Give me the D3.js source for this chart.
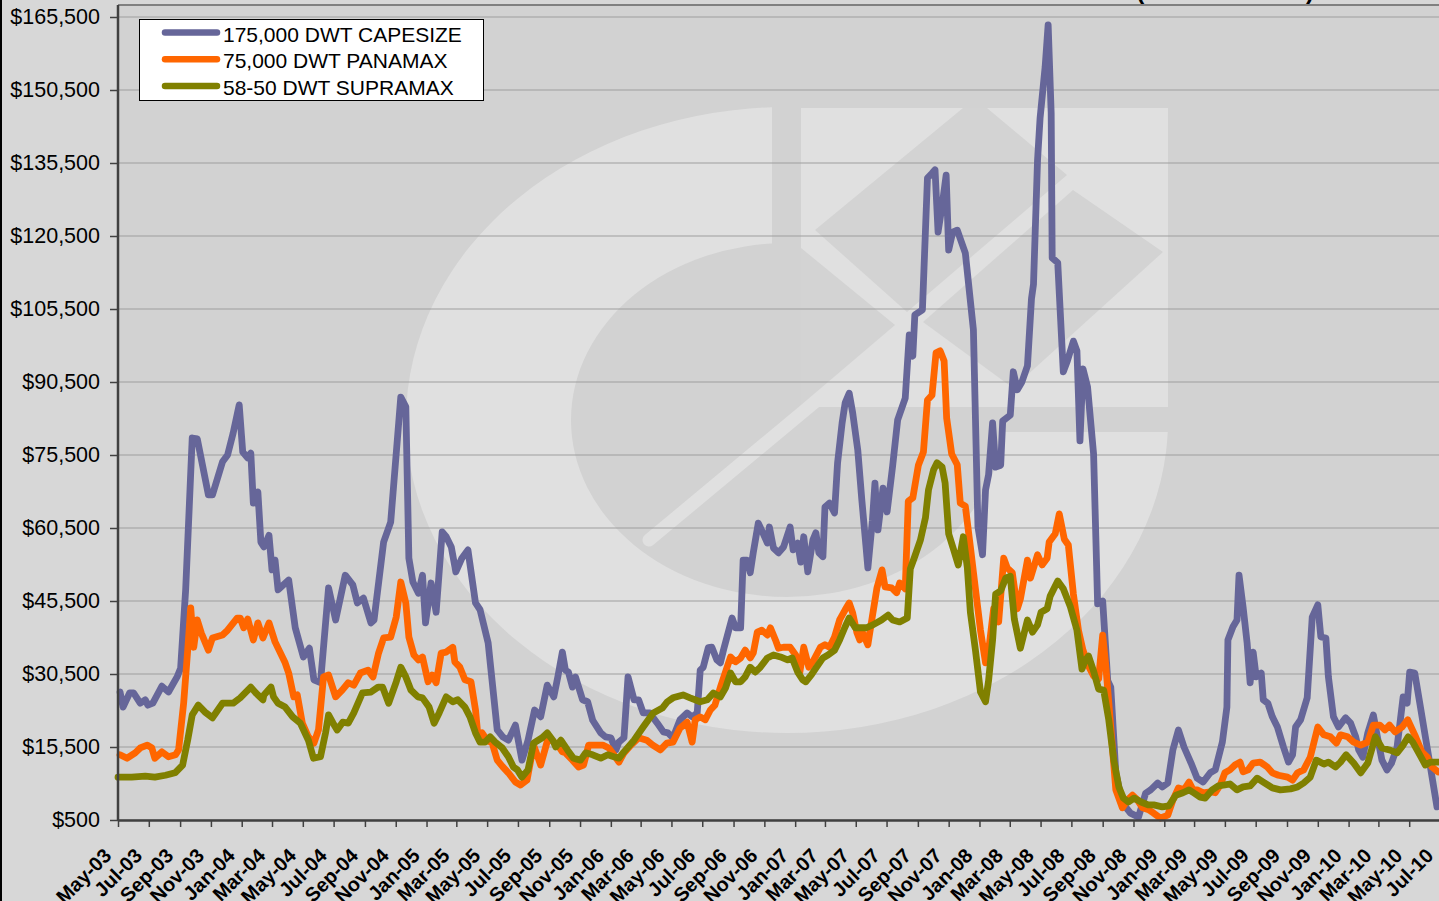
<!DOCTYPE html>
<meta charset="utf-8">

<!-- Load d3.js -->
<script src="https://d3js.org/d3.v7.min.js"></script>

<style>
    body { margin: 0; background: #d7d7d7; }
    svg { display: block; font-family: "Liberation Sans", Arial, sans-serif; }
</style>

<div id="my_dataviz"></div>

<script>

    // weekly time charter rates, $/day
    const capesize = [
        ["2003-05-05", 26800], ["2003-05-11", 23700], ["2003-05-24", 26600], ["2003-06-01", 26600], ["2003-06-14", 24500], ["2003-06-24", 25200], ["2003-06-29", 24100], ["2003-07-09", 24500], ["2003-07-27", 28000], ["2003-08-09", 26800], ["2003-08-26", 29900], ["2003-09-02", 31700], ["2003-09-12", 47800], ["2003-09-25", 79000], ["2003-10-05", 78800], ["2003-10-27", 67300], ["2003-11-04", 67300], ["2003-11-24", 74100], ["2003-12-04", 75500], ["2003-12-15", 80000], ["2003-12-27", 85800],
        ["2004-01-03", 76100], ["2004-01-13", 74900], ["2004-01-19", 75900], ["2004-01-24", 65600], ["2004-02-02", 67900], ["2004-02-08", 57600], ["2004-02-14", 56600], ["2004-02-24", 59000], ["2004-03-01", 51900], ["2004-03-07", 53900], ["2004-03-13", 47800], ["2004-04-03", 49800], ["2004-04-16", 40000], ["2004-05-02", 34000], ["2004-05-14", 35800], ["2004-05-23", 29300], ["2004-06-05", 28700], ["2004-06-21", 48200], ["2004-07-05", 41600], ["2004-07-24", 50800], ["2004-08-08", 48800], ["2004-08-17", 45100], ["2004-08-29", 46100], ["2004-09-13", 41000], ["2004-09-19", 41600], ["2004-10-08", 57600], ["2004-10-22", 61700], ["2004-11-11", 87400], ["2004-11-21", 85400], ["2004-11-27", 54300], ["2004-12-05", 49400], ["2004-12-16", 47100], ["2004-12-24", 50800], ["2004-12-30", 41000],
        ["2005-01-10", 49200], ["2005-01-20", 43200], ["2005-02-01", 59700], ["2005-02-09", 58700], ["2005-02-19", 56600], ["2005-02-28", 51500], ["2005-03-12", 54300], ["2005-03-24", 56000], ["2005-04-08", 45100], ["2005-04-17", 43700], ["2005-05-03", 36900], ["2005-05-21", 19000], ["2005-06-01", 17600], ["2005-06-12", 16900], ["2005-06-26", 20000], ["2005-07-09", 12800], ["2005-07-21", 16900], ["2005-08-03", 23100], ["2005-08-15", 21700], ["2005-08-28", 28200], ["2005-09-10", 25800], ["2005-09-18", 29900], ["2005-09-27", 35000], ["2005-10-03", 31300], ["2005-10-09", 30900], ["2005-10-17", 27800], ["2005-10-23", 29900], ["2005-11-06", 25200], ["2005-11-16", 24800], ["2005-11-26", 21000], ["2005-12-12", 18400], ["2005-12-21", 17600],
        ["2006-01-01", 17400], ["2006-01-11", 14900], ["2006-01-17", 16500], ["2006-01-27", 17400], ["2006-02-04", 29900], ["2006-02-16", 25200], ["2006-02-25", 25200], ["2006-03-06", 22500], ["2006-03-19", 22500], ["2006-04-03", 20400], ["2006-04-15", 18600], ["2006-04-24", 18400], ["2006-05-04", 17400], ["2006-05-18", 21100], ["2006-06-01", 22500], ["2006-06-11", 21700], ["2006-06-21", 22500], ["2006-06-27", 31300], ["2006-07-03", 31900], ["2006-07-13", 35900], ["2006-07-20", 36000], ["2006-07-30", 33400], ["2006-08-06", 32800], ["2006-08-12", 35400], ["2006-08-21", 38900], ["2006-08-29", 42000], ["2006-09-05", 40000], ["2006-09-15", 40000], ["2006-09-20", 53900], ["2006-09-28", 53900], ["2006-10-04", 51300], ["2006-10-10", 55400], ["2006-10-20", 61500], ["2006-10-29", 59500], ["2006-11-07", 57400], ["2006-11-11", 60700], ["2006-11-19", 56400], ["2006-11-29", 55400], ["2006-12-09", 56600], ["2006-12-22", 60700], ["2006-12-28", 56000],
        ["2007-01-06", 57400], ["2007-01-12", 53500], ["2007-01-18", 58700], ["2007-01-26", 51500], ["2007-02-05", 58000], ["2007-02-11", 59500], ["2007-02-17", 55400], ["2007-02-25", 54600], ["2007-03-01", 64800], ["2007-03-10", 65600], ["2007-03-20", 63600], ["2007-03-26", 73900], ["2007-04-04", 82100], ["2007-04-10", 86200], ["2007-04-18", 88200], ["2007-04-25", 84100], ["2007-05-05", 76500], ["2007-05-13", 66300], ["2007-05-21", 57000], ["2007-05-25", 52300], ["2007-06-03", 62100], ["2007-06-08", 69700], ["2007-06-14", 60100], ["2007-06-24", 68700], ["2007-07-02", 63800], ["2007-07-13", 73200], ["2007-07-23", 82700], ["2007-08-07", 87200], ["2007-08-15", 100200], ["2007-08-22", 95800], ["2007-08-26", 104300], ["2007-09-10", 105300], ["2007-09-20", 132400], ["2007-09-29", 133400], ["2007-10-05", 134100], ["2007-10-11", 121300], ["2007-10-19", 126700], ["2007-10-27", 133000], ["2007-11-01", 117600], ["2007-11-09", 121300], ["2007-11-18", 121700], ["2007-12-04", 117000], ["2007-12-20", 101200], ["2007-12-29", 60700],
        ["2008-01-07", 55000], ["2008-01-13", 68300], ["2008-01-19", 71400], ["2008-01-27", 82100], ["2008-02-02", 73000], ["2008-02-12", 73400], ["2008-02-16", 82500], ["2008-03-02", 83700], ["2008-03-08", 92600], ["2008-03-16", 88900], ["2008-03-25", 90500], ["2008-04-05", 93800], ["2008-04-13", 107600], ["2008-04-17", 110600], ["2008-04-25", 136100], ["2008-04-30", 144700], ["2008-05-10", 155200], ["2008-05-16", 163900], ["2008-05-22", 145800], ["2008-05-24", 116000], ["2008-06-04", 115000], ["2008-06-15", 92600], ["2008-06-23", 94800], ["2008-07-05", 98900], ["2008-07-12", 96900], ["2008-07-18", 78400], ["2008-07-24", 93200], ["2008-08-02", 89500], ["2008-08-14", 75700], ["2008-08-22", 44900], ["2008-09-01", 45500], ["2008-09-11", 29100], ["2008-09-17", 27800], ["2008-09-27", 10200], ["2008-10-10", 4000], ["2008-10-26", 1900], ["2008-11-11", 1100], ["2008-11-25", 6000], ["2008-12-05", 6700], ["2008-12-19", 8100], ["2008-12-28", 7300],
        ["2009-01-08", 8100], ["2009-01-18", 14900], ["2009-01-29", 19000], ["2009-02-09", 15500], ["2009-02-23", 12200], ["2009-03-07", 9100], ["2009-03-19", 8300], ["2009-04-02", 10200], ["2009-04-12", 10800], ["2009-04-26", 16500], ["2009-05-05", 23700], ["2009-05-07", 37500], ["2009-05-17", 40200], ["2009-05-25", 41600], ["2009-05-29", 50800], ["2009-06-06", 44300], ["2009-06-14", 36900], ["2009-06-20", 28700], ["2009-06-26", 35000], ["2009-07-02", 29900], ["2009-07-12", 30700], ["2009-07-16", 25200], ["2009-07-25", 24500], ["2009-08-03", 21700], ["2009-08-13", 19600], ["2009-08-25", 15500], ["2009-09-04", 12400], ["2009-09-12", 13900], ["2009-09-18", 19600], ["2009-09-28", 21100], ["2009-10-11", 25600], ["2009-10-21", 42200], ["2009-11-01", 44700], ["2009-11-07", 38100], ["2009-11-17", 37900], ["2009-11-22", 29900], ["2009-12-02", 21700], ["2009-12-12", 19600], ["2009-12-26", 21500],
        ["2010-01-05", 20400], ["2010-01-15", 17600], ["2010-01-21", 14900], ["2010-01-29", 13400], ["2010-02-08", 18400], ["2010-02-19", 22100], ["2010-02-27", 17600], ["2010-03-08", 12800], ["2010-03-18", 10800], ["2010-03-27", 12200], ["2010-04-07", 15500], ["2010-04-19", 25800], ["2010-04-27", 24500], ["2010-05-02", 30900], ["2010-05-12", 30700], ["2010-05-22", 24500], ["2010-06-02", 17600], ["2010-06-12", 11400], ["2010-06-25", 3200]
    ];

    const panamax = [
        ["2003-05-05", 13900], ["2003-05-19", 13200], ["2003-06-04", 14300], ["2003-06-14", 15300], ["2003-06-28", 15900], ["2003-07-07", 15300], ["2003-07-13", 13200], ["2003-07-27", 14500], ["2003-08-09", 13500], ["2003-08-23", 13900], ["2003-08-29", 14900], ["2003-09-08", 24500], ["2003-09-16", 35400], ["2003-09-22", 44100], ["2003-09-28", 36000], ["2003-10-05", 41600], ["2003-10-13", 38900], ["2003-10-27", 35400], ["2003-11-04", 37900], ["2003-11-24", 38500], ["2003-12-04", 39500], ["2003-12-23", 42000], ["2003-12-29", 42000],
        ["2004-01-05", 40000], ["2004-01-13", 41800], ["2004-01-24", 37500], ["2004-02-02", 41000], ["2004-02-12", 37900], ["2004-02-24", 41000], ["2004-03-07", 37100], ["2004-03-27", 32800], ["2004-04-03", 30700], ["2004-04-13", 25800], ["2004-04-20", 26200], ["2004-04-30", 20400], ["2004-05-12", 17600], ["2004-05-23", 16300], ["2004-06-01", 19000], ["2004-06-11", 29900], ["2004-06-21", 30300], ["2004-07-05", 25800], ["2004-07-18", 27200], ["2004-07-30", 28700], ["2004-08-10", 28200], ["2004-08-23", 30700], ["2004-09-07", 31300], ["2004-09-17", 29900], ["2004-09-28", 34800], ["2004-10-08", 37900], ["2004-10-22", 38100], ["2004-11-02", 42200], ["2004-11-11", 49400], ["2004-11-21", 45100], ["2004-11-27", 38100], ["2004-12-07", 34400], ["2004-12-16", 33400], ["2004-12-24", 34000],
        ["2005-01-04", 28900], ["2005-01-12", 30300], ["2005-01-20", 28700], ["2005-01-30", 34800], ["2005-02-09", 35000], ["2005-02-22", 36000], ["2005-02-26", 33000], ["2005-03-08", 31900], ["2005-03-18", 29300], ["2005-03-30", 28900], ["2005-04-08", 23100], ["2005-04-13", 17600], ["2005-04-21", 18400], ["2005-05-01", 16900], ["2005-05-11", 16300], ["2005-05-21", 12800], ["2005-06-01", 11400], ["2005-06-12", 10200], ["2005-06-26", 8300], ["2005-07-06", 7700], ["2005-07-19", 8700], ["2005-08-01", 15900], ["2005-08-15", 11800], ["2005-08-25", 15500], ["2005-08-30", 17400], ["2005-09-18", 15900], ["2005-09-27", 14500], ["2005-10-03", 14300], ["2005-10-17", 12800], ["2005-10-29", 11400], ["2005-11-08", 11800], ["2005-11-18", 15900], ["2005-12-02", 15900], ["2005-12-16", 15900], ["2005-12-28", 15300],
        ["2006-01-07", 13900], ["2006-01-17", 12400], ["2006-01-27", 14300], ["2006-02-10", 15900], ["2006-02-25", 17400], ["2006-03-13", 16900], ["2006-03-25", 15900], ["2006-04-09", 14900], ["2006-04-22", 16300], ["2006-05-04", 16500], ["2006-05-18", 19400], ["2006-06-01", 20600], ["2006-06-11", 16500], ["2006-06-17", 21100], ["2006-06-27", 21700], ["2006-07-07", 21100], ["2006-07-17", 23100], ["2006-07-26", 24100], ["2006-08-06", 27800], ["2006-08-16", 30900], ["2006-08-26", 34000], ["2006-09-05", 33000], ["2006-09-15", 33800], ["2006-09-24", 35400], ["2006-10-04", 33800], ["2006-10-10", 34800], ["2006-10-18", 39100], ["2006-10-27", 39500], ["2006-11-07", 38500], ["2006-11-13", 40000], ["2006-11-23", 37500], ["2006-11-29", 35800], ["2006-12-09", 36000], ["2006-12-22", 36000],
        ["2007-01-02", 34400], ["2007-01-10", 30700], ["2007-01-18", 36000], ["2007-01-28", 31900], ["2007-02-07", 33400], ["2007-02-20", 36000], ["2007-03-01", 36500], ["2007-03-10", 36000], ["2007-03-20", 38100], ["2007-03-30", 41600], ["2007-04-10", 43700], ["2007-04-18", 45100], ["2007-04-25", 43000], ["2007-05-03", 39100], ["2007-05-09", 37500], ["2007-05-15", 38900], ["2007-05-25", 36500], ["2007-06-03", 42400], ["2007-06-12", 48200], ["2007-06-22", 51900], ["2007-06-28", 48400], ["2007-07-11", 48200], ["2007-07-21", 47200], ["2007-07-27", 49200], ["2007-08-07", 48000], ["2007-08-13", 66000], ["2007-08-22", 66700], ["2007-09-02", 73400], ["2007-09-12", 76100], ["2007-09-20", 86800], ["2007-09-29", 87800], ["2007-10-07", 96500], ["2007-10-15", 96900], ["2007-10-23", 94800], ["2007-10-28", 83100], ["2007-11-07", 75700], ["2007-11-18", 73500], ["2007-11-24", 65600], ["2007-12-04", 65000], ["2007-12-14", 56600], ["2007-12-24", 48000],
        ["2008-01-03", 39500], ["2008-01-13", 32800], ["2008-01-21", 36900], ["2008-01-29", 43900], ["2008-02-08", 41200], ["2008-02-18", 54300], ["2008-02-25", 52300], ["2008-03-06", 51300], ["2008-03-16", 43900], ["2008-03-22", 45900], ["2008-04-05", 53900], ["2008-04-11", 50200], ["2008-04-25", 55000], ["2008-05-04", 52900], ["2008-05-14", 54300], ["2008-05-18", 57600], ["2008-05-30", 59300], ["2008-06-07", 63400], ["2008-06-17", 58200], ["2008-06-25", 57000], ["2008-07-05", 46900], ["2008-07-15", 39500], ["2008-07-24", 35400], ["2008-08-04", 32100], ["2008-08-14", 30100], ["2008-08-24", 29500], ["2008-09-01", 38500], ["2008-09-07", 32400], ["2008-09-17", 19600], ["2008-09-27", 6700], ["2008-10-10", 3000], ["2008-10-20", 4600], ["2008-10-30", 5600], ["2008-11-09", 4600], ["2008-11-19", 3000], ["2008-12-01", 2600], ["2008-12-11", 1900], ["2008-12-24", 900],
        ["2009-01-08", 1500], ["2009-01-18", 4600], ["2009-01-29", 7100], ["2009-02-09", 6700], ["2009-02-19", 8300], ["2009-02-27", 6700], ["2009-03-07", 6700], ["2009-03-19", 6100], ["2009-04-02", 6300], ["2009-04-12", 6100], ["2009-04-22", 7700], ["2009-05-01", 10200], ["2009-05-11", 10800], ["2009-05-21", 11800], ["2009-05-31", 12400], ["2009-06-06", 10400], ["2009-06-16", 10800], ["2009-06-26", 12200], ["2009-07-10", 12400], ["2009-07-24", 11400], ["2009-08-03", 10200], ["2009-08-15", 9700], ["2009-09-02", 9300], ["2009-09-12", 8700], ["2009-09-22", 10200], ["2009-10-04", 10800], ["2009-10-17", 13400], ["2009-11-01", 19600], ["2009-11-13", 18000], ["2009-11-26", 17600], ["2009-12-08", 16300], ["2009-12-16", 18000], ["2009-12-30", 17600],
        ["2010-01-11", 16500], ["2010-01-25", 15900], ["2010-02-08", 16500], ["2010-02-19", 20000], ["2010-03-04", 20000], ["2010-03-14", 19000], ["2010-03-23", 20000], ["2010-04-03", 18600], ["2010-04-17", 19600], ["2010-04-28", 21100], ["2010-05-12", 18000], ["2010-05-26", 14500], ["2010-06-06", 13400], ["2010-06-15", 11400], ["2010-06-27", 10400]
    ];

    const supramax = [
        ["2003-05-01", 9300], ["2003-05-28", 9300], ["2003-06-24", 9500], ["2003-07-13", 9300], ["2003-08-03", 9700], ["2003-08-22", 10200], ["2003-09-06", 11800], ["2003-09-16", 16900], ["2003-09-25", 22100], ["2003-10-07", 24100], ["2003-10-20", 22700], ["2003-11-04", 21500], ["2003-11-24", 24500], ["2003-12-15", 24500], ["2003-12-29", 25600],
        ["2004-01-19", 27800], ["2004-01-29", 26600], ["2004-02-12", 25200], ["2004-02-14", 26200], ["2004-02-28", 27800], ["2004-03-04", 25800], ["2004-03-13", 24500], ["2004-03-27", 23700], ["2004-04-11", 21700], ["2004-04-26", 20400], ["2004-05-12", 16900], ["2004-05-22", 13200], ["2004-06-05", 13500], ["2004-06-15", 18400], ["2004-06-21", 22100], ["2004-06-30", 20400], ["2004-07-08", 19000], ["2004-07-19", 20600], ["2004-07-30", 20400], ["2004-08-10", 22500], ["2004-08-27", 26600], ["2004-09-13", 26800], ["2004-09-27", 27800], ["2004-10-06", 27800], ["2004-10-18", 24500], ["2004-11-02", 28900], ["2004-11-11", 31900], ["2004-11-21", 29900], ["2004-12-01", 27200], ["2004-12-15", 25800], ["2004-12-24", 25600],
        ["2005-01-06", 23700], ["2005-01-16", 20400], ["2005-01-26", 22500], ["2005-02-09", 25800], ["2005-02-22", 24800], ["2005-03-04", 25200], ["2005-03-18", 23700], ["2005-03-28", 21700], ["2005-04-08", 18400], ["2005-04-17", 16500], ["2005-04-27", 16500], ["2005-05-07", 17600], ["2005-05-17", 16500], ["2005-05-31", 15300], ["2005-06-12", 13500], ["2005-06-22", 11400], ["2005-06-30", 10800], ["2005-07-09", 9300], ["2005-07-21", 10800], ["2005-08-01", 16300], ["2005-08-18", 17400], ["2005-08-28", 18400], ["2005-09-08", 16900], ["2005-09-14", 15500], ["2005-09-24", 16900], ["2005-10-07", 14900], ["2005-10-19", 13200], ["2005-11-02", 12800], ["2005-11-12", 14300], ["2005-11-26", 13900], ["2005-12-12", 13200], ["2005-12-26", 13900],
        ["2006-01-07", 13500], ["2006-01-17", 13200], ["2006-01-27", 14500], ["2006-02-16", 16900], ["2006-03-06", 19600], ["2006-03-26", 22500], ["2006-04-13", 23500], ["2006-04-23", 24800], ["2006-05-04", 25600], ["2006-05-24", 26200], ["2006-06-07", 25600], ["2006-06-27", 24800], ["2006-07-11", 25200], ["2006-07-23", 26600], ["2006-08-06", 25800], ["2006-08-16", 27600], ["2006-08-26", 30700], ["2006-09-05", 28900], ["2006-09-15", 28900], ["2006-09-24", 29900], ["2006-10-04", 31900], ["2006-10-14", 30900], ["2006-10-24", 31900], ["2006-11-07", 33800], ["2006-11-19", 34400], ["2006-12-03", 34000], ["2006-12-17", 33400], ["2006-12-26", 33800],
        ["2007-01-06", 30900], ["2007-01-16", 29300], ["2007-01-22", 28900], ["2007-02-02", 30300], ["2007-02-11", 31700], ["2007-02-25", 33800], ["2007-03-07", 34400], ["2007-03-20", 35400], ["2007-03-30", 37500], ["2007-04-10", 40200], ["2007-04-18", 42000], ["2007-04-30", 40000], ["2007-05-09", 40000], ["2007-05-22", 40000], ["2007-06-04", 40600], ["2007-06-21", 41600], ["2007-07-04", 42600], ["2007-07-13", 41600], ["2007-07-27", 41200], ["2007-08-11", 42000], ["2007-08-17", 52100], ["2007-08-26", 54700], ["2007-09-06", 58000], ["2007-09-16", 62600], ["2007-09-22", 68300], ["2007-10-02", 72400], ["2007-10-09", 73900], ["2007-10-19", 73000], ["2007-10-25", 69700], ["2007-11-01", 59300], ["2007-11-11", 56000], ["2007-11-20", 52900], ["2007-11-30", 58700], ["2007-12-08", 52300], ["2007-12-14", 43200], ["2007-12-24", 35400],
        ["2008-01-03", 26800], ["2008-01-13", 24800], ["2008-01-19", 29100], ["2008-01-27", 37500], ["2008-02-02", 46900], ["2008-02-12", 47600], ["2008-02-22", 50200], ["2008-03-02", 50600], ["2008-03-10", 41800], ["2008-03-22", 35800], ["2008-04-05", 41600], ["2008-04-15", 39100], ["2008-04-25", 40600], ["2008-05-02", 43200], ["2008-05-14", 43900], ["2008-05-20", 46500], ["2008-06-04", 49600], ["2008-06-15", 48000], ["2008-06-29", 44300], ["2008-07-12", 39500], ["2008-07-22", 31500], ["2008-07-28", 33200], ["2008-08-04", 34200], ["2008-08-14", 31100], ["2008-08-24", 27400], ["2008-09-03", 27200], ["2008-09-13", 21100], ["2008-09-23", 12800], ["2008-10-03", 7300], ["2008-10-12", 5000], ["2008-10-22", 4200], ["2008-11-02", 5000], ["2008-11-16", 4200], ["2008-11-30", 3600], ["2008-12-11", 3600], ["2008-12-28", 3200],
        ["2009-01-10", 3400], ["2009-01-24", 5600], ["2009-02-07", 6100], ["2009-02-19", 6700], ["2009-02-28", 6100], ["2009-03-13", 5200], ["2009-03-23", 5000], ["2009-04-06", 6700], ["2009-04-18", 7500], ["2009-05-01", 7700], ["2009-05-11", 7900], ["2009-05-25", 6700], ["2009-06-06", 7300], ["2009-06-20", 7500], ["2009-07-04", 9100], ["2009-07-16", 8300], ["2009-08-03", 7100], ["2009-08-19", 6700], ["2009-09-08", 6900], ["2009-09-22", 7300], ["2009-10-04", 8100], ["2009-10-17", 9300], ["2009-10-29", 12800], ["2009-11-13", 12000], ["2009-11-22", 12400], ["2009-12-06", 11400], ["2009-12-16", 12400], ["2009-12-27", 13900],
        ["2010-01-11", 12200], ["2010-01-25", 10200], ["2010-02-08", 12200], ["2010-02-23", 17600], ["2010-03-08", 15300], ["2010-03-23", 14900], ["2010-04-07", 14300], ["2010-04-19", 15900], ["2010-04-29", 17600], ["2010-05-08", 16500], ["2010-05-22", 13900], ["2010-06-02", 11800], ["2010-06-12", 12400], ["2010-06-27", 12400]
    ];

    const seriesNames = ["175,000 DWT CAPESIZE", "75,000 DWT PANAMAX", "58-50 DWT SUPRAMAX"];
    const seriesColors = ["#666699", "#ff6600", "#808000"];
    const yTicks = d3.range(500, 165501, 15000);   // $500 ... $165,500
    const xStart = "2003-05-01", xEnd = "2010-07-01";
    const titleText = "TIME CHARTER RATES (USD PER DAY)";

    const width = 1439;
    const height = 901;
    const marginTop = 5;
    const marginLeft = 118;
    const plotBottom = 820;

    const parseDate = d3.utcParse("%Y-%m-%d");
    const series = [capesize, panamax, supramax].map((s, i) => ({
        name: seriesNames[i],
        color: seriesColors[i],
        values: s.map(([d, v]) => ({ date: parseDate(d), value: v })).sort((a, b) => a.date - b.date)
    }));

    const svg = d3.select("#my_dataviz")
        .append("svg")
        .attr("width", width)
        .attr("height", height)
        .attr("viewBox", [0, 0, width, height]);

    const x = d3.scaleUtc()
        .domain([parseDate(xStart), parseDate(xEnd)])
        .range([marginLeft, 1440]);

    const y = d3.scaleLinear()
        .domain([500, 165500])
        .range([plotBottom, 17]);

    // outer frame line on the left
    svg.append("line")
        .attr("x1", 1).attr("x2", 1).attr("y1", 0).attr("y2", height)
        .attr("stroke", "#000").attr("stroke-width", 2);

    // cut-off title (only the bottom of the brackets shows)
    svg.append("text")
        .attr("x", 1314).attr("y", -1)
        .attr("text-anchor", "end")
        .attr("font-size", 24).attr("font-weight", "bold")
        .text(titleText);

    // plot area
    const defs = svg.append("defs");
    defs.append("clipPath").attr("id", "plotClip")
        .append("rect")
        .attr("x", marginLeft).attr("y", marginTop)
        .attr("width", width - marginLeft).attr("height", plotBottom - marginTop);
    defs.append("clipPath").attr("id", "ringCut")
        .append("path")
        .attr("d", "M0,0H772V432H1439V901H0Z");

    svg.append("rect")
        .attr("x", marginLeft).attr("y", marginTop)
        .attr("width", width - marginLeft).attr("height", plotBottom - marginTop)
        .attr("fill", "#d2d2d2");

    // faint logo watermark behind the plot
    const logoLight = "#e0e0e0";
    const logo = svg.append("g").attr("clip-path", "url(#plotClip)");
    const ellipse = (cx, cy, rx, ry) =>
        `M${cx - rx},${cy}a${rx},${ry} 0 1,0 ${2 * rx},0a${rx},${ry} 0 1,0 ${-2 * rx},0Z`;
    logo.append("path")
        .attr("d", ellipse(787, 420, 381, 313) + ellipse(787, 420, 216, 177))
        .attr("fill-rule", "evenodd")
        .attr("fill", logoLight)
        .attr("clip-path", "url(#ringCut)");
    logo.append("line")
        .attr("x1", 649).attr("y1", 540).attr("x2", 905).attr("y2", 327)
        .attr("stroke", logoLight).attr("stroke-width", 13).attr("stroke-linecap", "round");
    logo.append("rect")
        .attr("x", 801).attr("y", 108).attr("width", 367).attr("height", 299)
        .attr("fill", logoLight);
    logo.selectAll("polygon")
        .data([
            [[815, 230], [963, 108], [987, 108], [1067, 175], [907, 312]],
            [[923, 322], [1073, 190], [1163, 252], [1013, 388]],
            [[801, 248], [895, 325], [801, 405]]
        ])
        .join("polygon")
        .attr("points", d => d.join(" "))
        .attr("fill", "#d3d3d3");

    // gridlines
    svg.append("g")
        .selectAll("line")
        .data(yTicks)
        .join("line")
        .attr("x1", marginLeft).attr("x2", width)
        .attr("y1", d => y(d)).attr("y2", d => y(d))
        .attr("stroke", "#9e9e9e").attr("stroke-width", 1.2);

    // top border of plot area
    svg.append("line")
        .attr("x1", marginLeft).attr("x2", width)
        .attr("y1", marginTop).attr("y2", marginTop)
        .attr("stroke", "#808080").attr("stroke-width", 2);

    // the lines
    const line = d3.line()
        .x(d => x(d.date))
        .y(d => y(d.value));

    svg.append("g")
        .attr("fill", "none")
        .attr("stroke-width", 6.8)
        .attr("stroke-linejoin", "round")
        .attr("stroke-linecap", "round")
        .selectAll("path")
        .data(series)
        .join("path")
        .attr("stroke", d => d.color)
        .attr("d", d => line(d.values));

    // y axis
    svg.append("g")
        .attr("transform", `translate(${marginLeft},0)`)
        .call(d3.axisLeft(y)
            .tickValues(yTicks)
            .tickSize(8)
            .tickPadding(10)
            .tickSizeOuter(0)
            .tickFormat(d => "$" + d3.format(",")(d)))
        .call(g => g.select(".domain").remove())
        .call(g => g.selectAll(".tick line").attr("stroke", "#404040").attr("stroke-width", 1.5))
        .call(g => g.selectAll(".tick text")
            .attr("fill", "#000")
            .attr("font-size", 21.5)
            .attr("font-family", "'Liberation Sans', Arial, sans-serif"));

    svg.append("line")
        .attr("x1", marginLeft).attr("x2", marginLeft)
        .attr("y1", marginTop).attr("y2", plotBottom + 1)
        .attr("stroke", "#404040").attr("stroke-width", 2.5);

    // x axis
    svg.append("g")
        .attr("transform", `translate(0,${plotBottom})`)
        .call(d3.axisBottom(x)
            .ticks(d3.utcMonth.every(2))
            .tickSize(7)
            .tickSizeOuter(0)
            .tickFormat(d3.utcFormat("%b-%y")))
        .call(g => g.select(".domain")
            .attr("stroke", "#404040").attr("stroke-width", 2.5))
        .call(g => g.selectAll(".tick line").attr("stroke", "#404040").attr("stroke-width", 1.5))
        .call(g => g.selectAll(".tick text")
            .attr("fill", "#000")
            .attr("font-size", 20)
            .attr("font-weight", "bold")
            .attr("font-family", "'Liberation Sans', Arial, sans-serif")
            .attr("text-anchor", "end")
            .attr("y", null)
            .attr("dy", null)
            .attr("transform", "translate(-6,37) rotate(-45)"));

    // legend
    const legend = svg.append("g");
    legend.append("rect")
        .attr("x", 139.5).attr("y", 19.5)
        .attr("width", 344).attr("height", 81)
        .attr("fill", "#fff").attr("stroke", "#000").attr("stroke-width", 1);

    const rows = legend.selectAll("g.row")
        .data(series)
        .join("g")
        .attr("class", "row")
        .attr("transform", (d, i) => `translate(0,${32.5 + i * 26.8})`);

    rows.append("line")
        .attr("x1", 165).attr("x2", 217)
        .attr("stroke", d => d.color)
        .attr("stroke-width", 6.5)
        .attr("stroke-linecap", "round");

    rows.append("text")
        .attr("x", 223).attr("y", 9)
        .attr("font-size", 21)
        .attr("fill", "#000")
        .text(d => d.name);

</script>
